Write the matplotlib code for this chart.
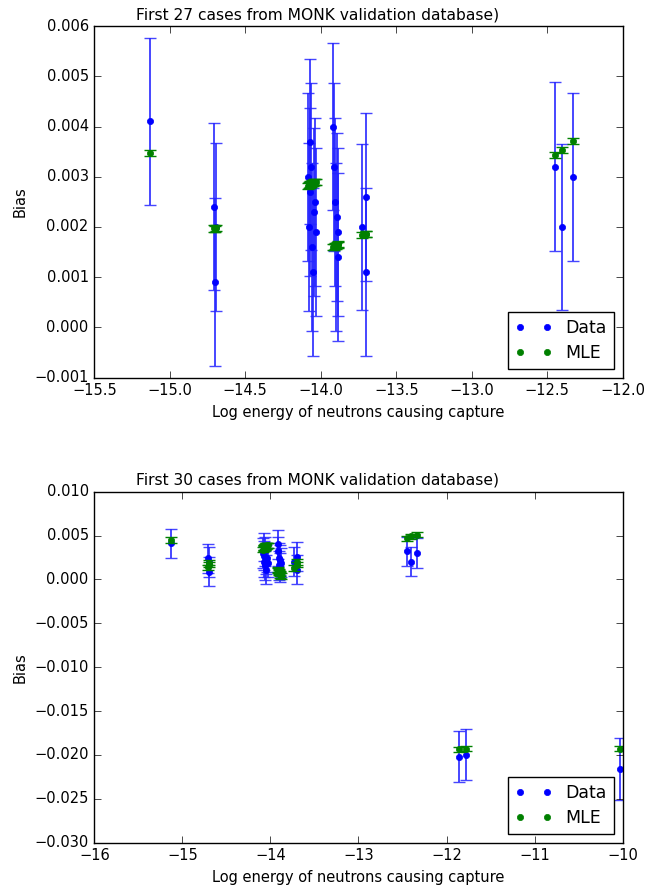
import numpy as np
import matplotlib
matplotlib.use("Agg")
import matplotlib.pyplot as plt

plt.style.use("classic")
plt.rcParams["font.family"] = ["DejaVu Sans"]

# ---------- Data ----------
x_data = [-15.13,
          -14.705, -14.70, -14.695,
          -14.083, -14.078, -14.072, -14.068, -14.063, -14.058, -14.052, -14.046, -14.040, -14.032,
          -13.917, -13.912, -13.907, -13.900, -13.895, -13.889, -13.884,
          -13.730, -13.702, -13.698,
          -12.45, -12.405, -12.33]
y_data = [0.0041,
          0.0024, 0.0009, 0.0020,
          0.0030, 0.0020, 0.0037, 0.0027, 0.0032, 0.0016, 0.0011, 0.0023, 0.0025, 0.0019,
          0.0040, 0.0032, 0.0025, 0.0016, 0.0022, 0.0014, 0.0019,
          0.0020, 0.0026, 0.0011,
          0.0032, 0.0020, 0.0030]
y_err = [0.00167,
         0.00166, 0.00167, 0.00167,
         0.00167, 0.00167, 0.00164, 0.00167, 0.00166, 0.00167, 0.00167, 0.00167, 0.00167, 0.00167,
         0.00167, 0.00167, 0.00167, 0.00167, 0.00167, 0.00167, 0.00167,
         0.00166, 0.00167, 0.00167,
         0.00168, 0.00165, 0.00167]

mle_27 = [0.00347,
          0.00197, 0.00196, 0.00198,
          0.00282, 0.00283, 0.00284, 0.00285, 0.00286, 0.00287, 0.00288, 0.00289, 0.00289, 0.00290,
          0.00160, 0.00161, 0.00162, 0.00163, 0.00164, 0.00165, 0.00166,
          0.00184, 0.00186, 0.00186,
          0.00344, 0.00353, 0.00372]

# three extra cases only in the second plot
x_extra = [-11.856, -11.78, -10.03]
y_extra = [-0.0202, -0.0200, -0.0216]
err_extra = [0.0029, 0.0029, 0.0035]

mle_30 = [0.0045,
          0.0014, 0.0017, 0.0019,
          0.0034, 0.0035, 0.0036, 0.0036, 0.0037, 0.0037, 0.0038, 0.0038, 0.0039, 0.0039,
          0.0011, 0.0010, 0.0009, 0.0008, 0.0007, 0.0005, 0.0004,
          0.0013, 0.0017, 0.0020,
          0.0047, 0.0049, 0.0051,
          -0.01935, -0.0193, -0.0193]

TITLE_SIZE = 11.2
TICK_SIZE = 10.5
LEG_SIZE = 12.5


def draw(ax, x, y, yerr, mle, mle_err, title, xlim, ylim, xticks, yticks, xfmt):
    ax.errorbar(x, y, yerr=yerr, fmt="none", ecolor=(0.15, 0.15, 1.0), elinewidth=1.4,
                capsize=4, capthick=1.0, alpha=0.85)
    ax.plot(x, y, "b.", markersize=9, label="Data")
    ax.errorbar(x, mle, yerr=mle_err, fmt="none", ecolor="g", elinewidth=1.2,
                capsize=4, capthick=1.0)
    ax.plot(x, mle, "g.", markersize=9, label="MLE")
    ax.set_xlim(xlim)
    ax.set_ylim(ylim)
    ax.set_xticks(xticks)
    ax.set_yticks(yticks)
    ax.set_xticklabels([xfmt.format(t).replace("-", "\u2212") for t in xticks])
    ax.set_yticklabels([f"{t:.3f}".replace("-", "\u2212") for t in yticks])
    ax.tick_params(labelsize=TICK_SIZE, direction="in", top=True, right=True, length=5)
    # the title sits left of the axes centre in the original
    ax.set_title(title, fontsize=TITLE_SIZE, x=0.423)
    ax.set_xlabel("Log energy of neutrons causing capture", fontsize=TICK_SIZE)
    ax.set_ylabel("Bias", fontsize=TICK_SIZE)
    leg = ax.legend(loc="lower right", numpoints=2, fontsize=LEG_SIZE, fancybox=False,
                    handlelength=2.2, handletextpad=0.75, borderpad=0.4, labelspacing=0.4)
    leg.get_frame().set_edgecolor("black")


fig = plt.figure(figsize=(6.45, 8.94), dpi=100, facecolor="white")

# ---------- Plot 1: first 27 cases ----------
ax1 = fig.add_axes([0.1462, 0.5775, 0.8192, 0.3934])
draw(ax1, x_data, y_data, y_err, mle_27, 0.00006,
     "First 27 cases from MONK validation database)",
     (-15.5, -12.0), (-0.001, 0.006),
     np.arange(-15.5, -11.99, 0.5), np.arange(-0.001, 0.0061, 0.001), "{:.1f}")

# ---------- Plot 2: first 30 cases ----------
ax2 = fig.add_axes([0.1462, 0.0574, 0.8192, 0.3926])
draw(ax2, x_data + x_extra, y_data + y_extra, y_err + err_extra, mle_30, 0.0003,
     "First 30 cases from MONK validation database)",
     (-16, -10), (-0.030, 0.010),
     np.arange(-16, -9.99, 1.0), np.arange(-0.030, 0.0101, 0.005), "{:.0f}")

fig.savefig("out.png", dpi=100, facecolor="white")
